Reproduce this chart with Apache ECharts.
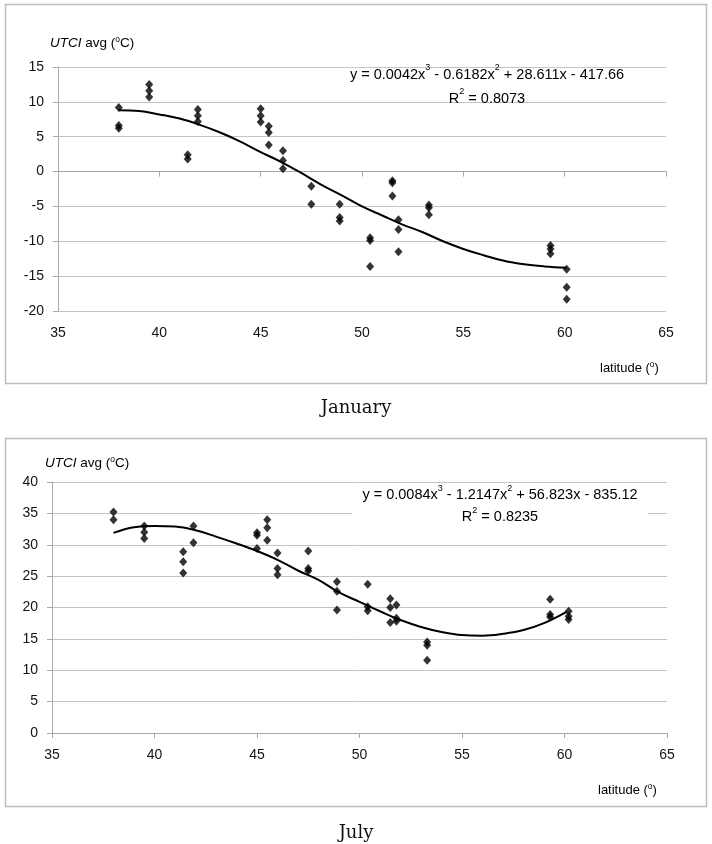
<!DOCTYPE html>
<html><head><meta charset="utf-8">
<script src="https://cdn.jsdelivr.net/npm/echarts@6/dist/echarts.min.js"></script>
<style>html,body{margin:0;padding:0;background:#fff}#c{width:712px;height:844px}</style>
</head><body><div id="c"></div>
<script>
// ---- data ----
const xTicks = [35, 40, 45, 50, 55, 60, 65];
const janYTicks = [-20, -15, -10, -5, 0, 5, 10, 15];
const julYTicks = [0, 5, 10, 15, 20, 25, 30, 35, 40];

const janLat = [38.0, 38.0, 38.0, 39.5, 39.5, 39.5, 41.4, 41.4, 41.9, 41.9, 41.9,
  45.0, 45.0, 45.0, 45.4, 45.4, 45.4, 46.1, 46.1, 46.1, 47.5, 47.5, 48.9, 48.9, 48.9,
  50.4, 50.4, 50.4, 51.5, 51.5, 51.5, 51.8, 51.8, 51.8, 53.3, 53.3, 53.3,
  59.3, 59.3, 59.3, 60.1, 60.1, 60.1];
const janUtci = [9.2, 6.6, 6.2, 12.5, 11.6, 10.7, 2.4, 1.8, 8.9, 8.0, 7.2,
  9.0, 8.0, 7.1, 6.5, 5.6, 3.8, 3.0, 1.6, 0.4, -2.1, -4.7, -4.7, -6.6, -7.1,
  -9.5, -9.9, -13.6, -1.3, -1.6, -3.5, -6.9, -8.3, -11.5, -4.8, -5.2, -6.2,
  -10.6, -11.1, -11.8, -14.0, -16.6, -18.3];
const janTrendLat = [38, 39, 40, 41, 42, 43, 44, 45, 46, 47, 48, 49, 50, 51, 52, 53, 54, 55, 56, 57, 58, 59, 60.1];
const janTrendUtci = [8.8, 8.7, 8.2, 7.6, 6.7, 5.6, 4.3, 2.8, 1.4, -0.2, -1.9, -3.4, -5.0, -6.3, -7.6, -8.7, -10.0, -11.1, -12.0, -12.8, -13.3, -13.6, -13.8];

const julLat = [38.0, 38.0, 39.5, 39.5, 39.5, 41.4, 41.4, 41.4, 41.9, 41.9,
  45.0, 45.0, 45.0, 45.5, 45.5, 45.5, 46.0, 46.0, 46.0, 47.5, 47.5, 47.5,
  48.9, 48.9, 48.9, 50.4, 50.4, 50.4, 51.5, 51.5, 51.5, 51.8, 51.8, 51.8,
  53.3, 53.3, 53.3, 59.3, 59.3, 59.3, 60.2, 60.2, 60.2];
const julUtci = [35.2, 34.0, 33.0, 32.0, 31.0, 28.9, 27.3, 25.5, 33.0, 30.3,
  31.9, 31.5, 29.4, 34.0, 32.7, 30.7, 28.7, 26.2, 25.2, 29.0, 26.2, 25.8,
  24.1, 22.6, 19.6, 23.7, 20.1, 19.5, 21.4, 20.0, 17.6, 20.4, 18.3, 17.8,
  14.5, 14.0, 11.6, 21.3, 18.9, 18.5, 19.4, 18.6, 18.1];
const julTrendLat = [38, 39, 40, 41, 42, 43, 44, 45, 46, 47, 48, 49, 50, 51, 52, 53, 54, 55, 56, 57, 58, 59, 60.1];
const julTrendUtci = [31.9, 32.8, 33.0, 32.9, 32.3, 31.3, 30.2, 29.0, 27.6, 25.9, 24.4, 22.4, 20.9, 19.4, 18.0, 16.9, 16.1, 15.6, 15.5, 15.8, 16.4, 17.5, 19.3];

const janEq = ['0.0042', '0.6182', '28.611', '417.66', '0.8073'];
const julEq = ['0.0084', '1.2147', '56.823', '835.12', '0.8235'];

// ---- build ----
const zip = (a, b) => a.map((v, i) => [v, b[i]]);
const FONT = 'Liberation Sans, Arial, sans-serif';
const gridCol = '#c4c4c4', axisCol = '#a8a8a8', txtCol = '#141414';

function yAxis(gi, ticks) {
  return {
    type: 'value', gridIndex: gi, min: ticks[0], max: ticks[ticks.length - 1], interval: 5,
    axisLine: { show: true, lineStyle: { color: axisCol, width: 1 } },
    axisTick: { show: true, length: 5, lineStyle: { color: axisCol } },
    axisLabel: { color: txtCol, fontFamily: FONT, fontSize: 14, margin: 14 },
    splitLine: { show: true, lineStyle: { color: gridCol, width: 1 } }
  };
}
function xAxisBase(gi) {
  return {
    type: 'value', gridIndex: gi, min: xTicks[0], max: xTicks[xTicks.length - 1], interval: 5,
    splitLine: { show: false },
    axisLabel: { color: txtCol, fontFamily: FONT, fontSize: 14, margin: 15 }
  };
}

const sup = { fontSize: 9, fontFamily: FONT, color: txtCol, verticalAlign: 'top', lineHeight: 11 };
function base(lh) { return { fontSize: 14.5, fontFamily: FONT, color: txtCol, lineHeight: lh }; }
function eqText(c) {
  return '{b|y = ' + c[0] + 'x}{s|3}{b| - ' + c[1] + 'x}{s|2}{b| + ' + c[2] + 'x - ' + c[3] + '}\n{b|R}{s|2}{b| = ' + c[4] + '}';
}
function yTitle(x, y) {
  return { type: 'text', x: x, y: y, style: {
    text: '{i|UTCI}{b| avg (}{s|o}{b|C)}', verticalAlign: 'middle',
    rich: { i: { fontStyle: 'italic', fontSize: 13.5, fontFamily: FONT, color: txtCol, lineHeight: 16 },
            b: { fontSize: 13.5, fontFamily: FONT, color: txtCol, lineHeight: 16 },
            s: { fontSize: 8.5, fontFamily: FONT, color: txtCol, verticalAlign: 'top', lineHeight: 10 } } } };
}
function xTitle(x, y) {
  return { type: 'text', x: x, y: y, style: {
    text: '{b|latitude (}{s|o}{b|)}', verticalAlign: 'middle',
    rich: { b: { fontSize: 13, fontFamily: FONT, color: txtCol, lineHeight: 16 },
            s: { fontSize: 8.5, fontFamily: FONT, color: txtCol, verticalAlign: 'top', lineHeight: 10 } } } };
}

const option = {
  animation: false,
  backgroundColor: '#fff',
  grid: [
    { left: 58, top: 67, width: 608, height: 244 },
    { left: 52, top: 482, width: 615, height: 251 }
  ],
  xAxis: [
    Object.assign(xAxisBase(0), { position: 'bottom', axisLine: { show: false, onZero: false }, axisTick: { show: false } }),
    Object.assign(xAxisBase(0), { position: 'bottom', axisLine: { show: true, onZero: true, lineStyle: { color: axisCol } },
      axisTick: { show: true, length: 5, lineStyle: { color: axisCol } }, axisLabel: { show: false } }),
    Object.assign(xAxisBase(1), { position: 'bottom', axisLine: { show: true, lineStyle: { color: axisCol } },
      axisTick: { show: true, length: 5, lineStyle: { color: axisCol } } })
  ],
  yAxis: [yAxis(0, janYTicks), yAxis(1, julYTicks)],
  series: [
    { type: 'line', xAxisIndex: 1, yAxisIndex: 0, data: zip(janTrendLat, janTrendUtci), smooth: 0.4,
      showSymbol: false, lineStyle: { color: '#000', width: 2 }, z: 3 },
    { type: 'scatter', xAxisIndex: 1, yAxisIndex: 0, data: zip(janLat, janUtci), symbol: 'diamond',
      symbolSize: [8, 9], itemStyle: { color: '#000' }, z: 4 },
    { type: 'line', xAxisIndex: 2, yAxisIndex: 1, data: zip(julTrendLat, julTrendUtci), smooth: 0.4,
      showSymbol: false, lineStyle: { color: '#000', width: 2 }, z: 3 },
    { type: 'scatter', xAxisIndex: 2, yAxisIndex: 1, data: zip(julLat, julUtci), symbol: 'diamond',
      symbolSize: [8, 9], itemStyle: { color: '#000' }, z: 4 }
  ],
  graphic: [
    { type: 'rect', shape: { x: 5.5, y: 4.5, width: 701, height: 379 }, style: { fill: 'none', stroke: '#bdbdbd', lineWidth: 1.5 }, z: -1 },
    { type: 'rect', shape: { x: 5.5, y: 438.5, width: 701, height: 368 }, style: { fill: 'none', stroke: '#bdbdbd', lineWidth: 1.5 }, z: -1 },
    yTitle(50, 43),
    yTitle(45, 463),
    xTitle(600, 368),
    xTitle(598, 790),
    { type: 'text', x: 487, y: 87, z: 10, style: { text: eqText(janEq), align: 'center', verticalAlign: 'middle',
      rich: { b: base(24), s: sup } } },
    { type: 'rect', shape: { x: 352, y: 485, width: 296, height: 42 }, style: { fill: '#fff' }, z: 9 },
    { type: 'text', x: 500, y: 506, z: 10, style: { text: eqText(julEq), align: 'center', verticalAlign: 'middle',
      rich: { b: base(22), s: sup } } },
    { type: 'text', x: 356, y: 408, style: { text: 'January', align: 'center', verticalAlign: 'middle',
      font: '18px "DejaVu Serif", serif', fill: '#111' } },
    { type: 'text', x: 356, y: 833, style: { text: 'July', align: 'center', verticalAlign: 'middle',
      font: '18px "DejaVu Serif", serif', fill: '#111' } }
  ]
};
const chart = echarts.init(document.getElementById('c'), null, { renderer: 'canvas' });
chart.setOption(option);
</script></body></html>
